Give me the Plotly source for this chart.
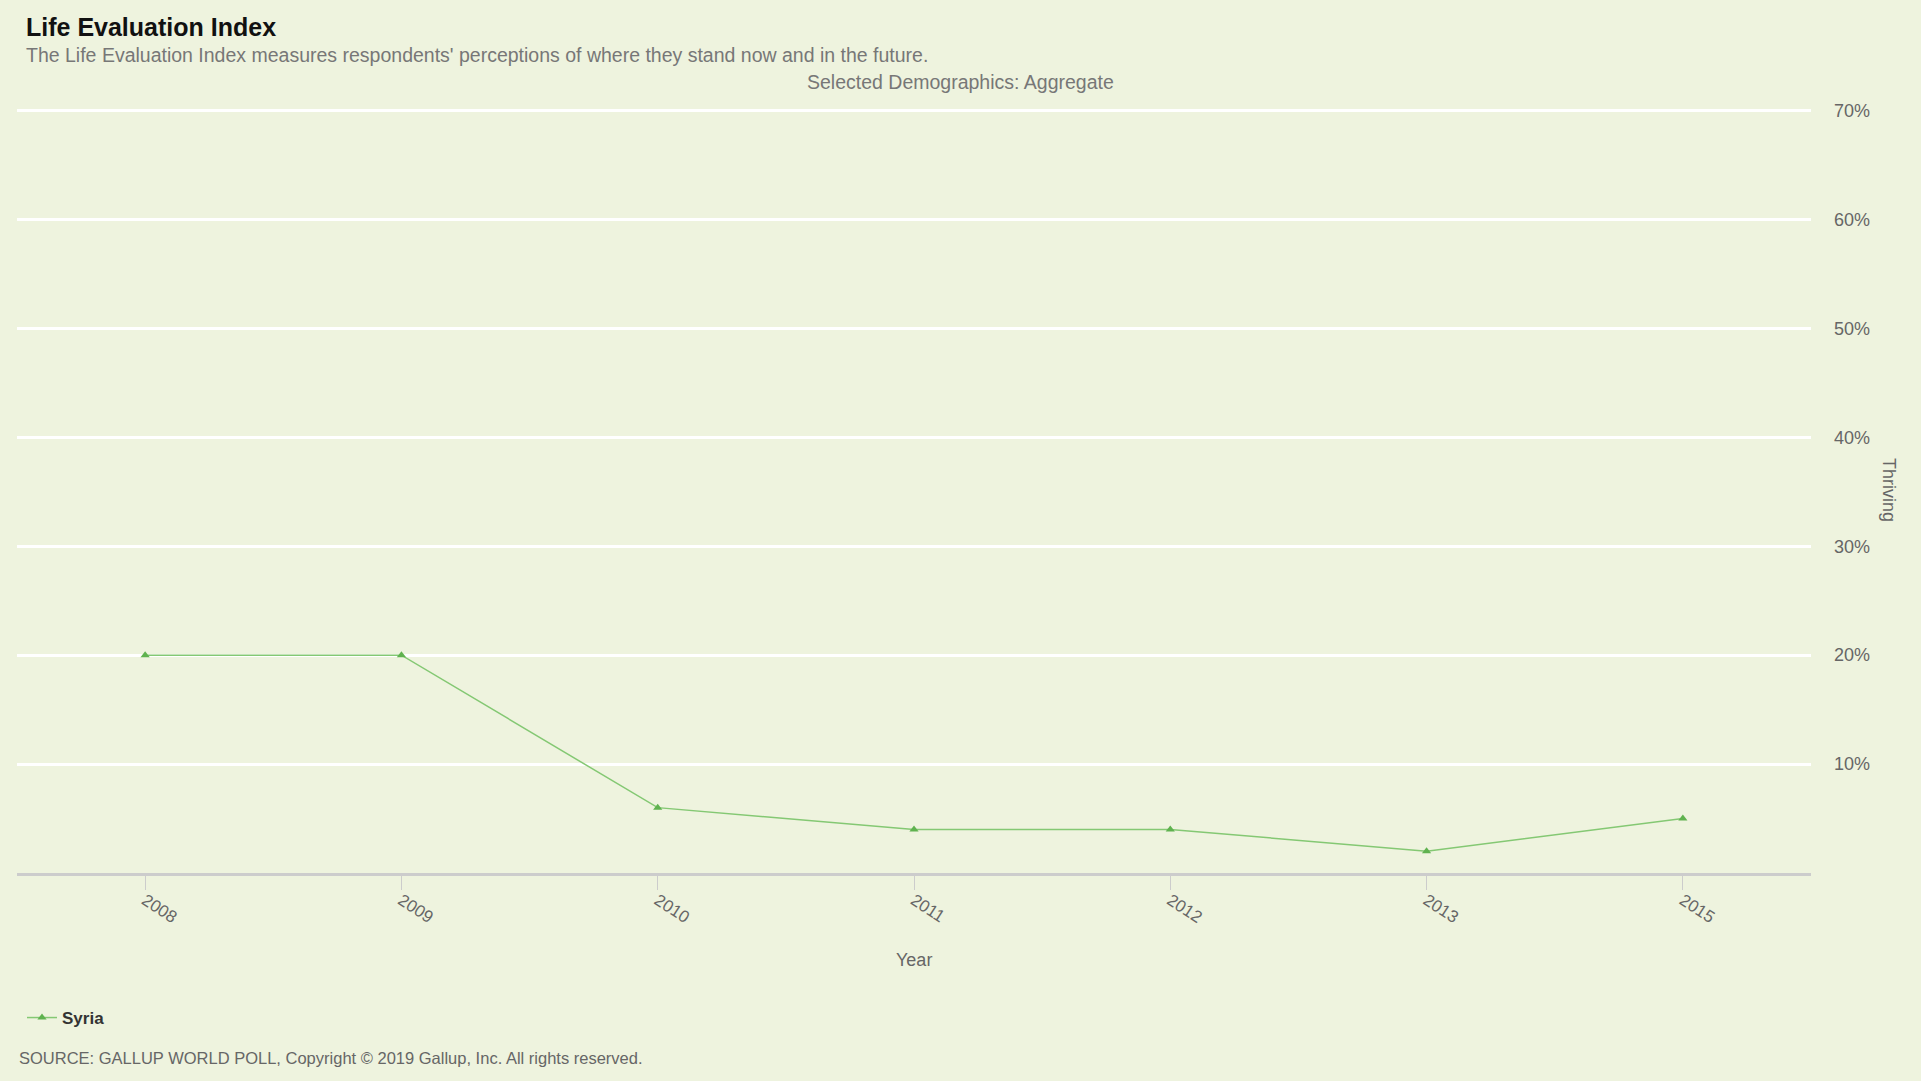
import plotly.graph_objects as go

years = ["2008", "2009", "2010", "2011", "2012", "2013", "2015"]
thriving = [20, 20, 6, 4, 4, 2, 5]
y_ticks = [10, 20, 30, 40, 50, 60, 70]
y_tick_labels = ["10%", "20%", "30%", "40%", "50%", "60%", "70%"]

BG = "#eef3de"
FONT = "Arial, Liberation Sans, sans-serif"
W, H = 1921, 1081
L, R, T, B = 17, 110, 105, 208
pw, ph = W - L - R, H - T - B

def px(x):
    return (x - L) / pw

def py(y):
    return (H - B - y) / ph

fig = go.Figure()
fig.add_trace(go.Scatter(
    x=years, y=thriving, mode="lines+markers", name="<b>Syria</b>",
    line=dict(color="#84c873", width=1.5),
    marker=dict(symbol="triangle-up", size=8, color="#5fb24f"),
))

fig.update_layout(
    width=W, height=H,
    margin=dict(l=L, r=R, t=T, b=B),
    paper_bgcolor=BG, plot_bgcolor=BG,
    font=dict(family=FONT, color="#666666"),
    showlegend=True,
    legend=dict(x=px(22), y=py(1018), xanchor="left", yanchor="middle",
                bgcolor="rgba(0,0,0,0)",
                font=dict(size=17, color="#333333", family=FONT),
                itemwidth=30),
    xaxis=dict(
        type="category", range=[-0.5, len(years) - 0.5],
        showgrid=False, showline=True, linecolor="#cccccc", linewidth=3,
        ticks="outside", ticklen=14, tickcolor="#cccccc", tickwidth=1,
        tickangle=33, tickfont=dict(size=17, color="#666666"),
        ticklabelstandoff=-6,
        zeroline=False,
    ),
    yaxis=dict(
        side="right", range=[0, 70.5], tickvals=y_ticks, ticktext=y_tick_labels,
        showgrid=True, gridcolor="#ffffff", gridwidth=3,
        zeroline=False, showline=False, ticks="",
        ticklabelstandoff=22,
        tickfont=dict(size=18, color="#666666"),
    ),
    annotations=[
        dict(text="<b>Life Evaluation Index</b>", x=px(24), y=py(27), xref="paper", yref="paper",
             xanchor="left", yanchor="middle", showarrow=False,
             font=dict(size=25, color="#111111", family=FONT)),
        dict(text="The Life Evaluation Index measures respondents' perceptions of where they stand now and in the future.",
             x=px(24), y=py(55), xref="paper", yref="paper",
             xanchor="left", yanchor="middle", showarrow=False,
             font=dict(size=19.5, color="#777777", family=FONT)),
        dict(text="Selected Demographics: Aggregate", x=px(961), y=py(82), xref="paper", yref="paper",
             xanchor="center", yanchor="middle", showarrow=False,
             font=dict(size=19.5, color="#777777", family=FONT)),
        dict(text="Thriving", x=px(1889), y=py(490), xref="paper", yref="paper",
             xanchor="center", yanchor="middle", showarrow=False, textangle=90,
             font=dict(size=18, color="#666666", family=FONT)),
        dict(text="Year", x=px(914), y=py(960), xref="paper", yref="paper",
             xanchor="center", yanchor="middle", showarrow=False,
             font=dict(size=18, color="#666666", family=FONT)),
        dict(text="SOURCE: GALLUP WORLD POLL, Copyright \u00a9 2019 Gallup, Inc. All rights reserved.",
             x=px(17), y=py(1058), xref="paper", yref="paper",
             xanchor="left", yanchor="middle", showarrow=False,
             font=dict(size=16.5, color="#666666", family=FONT)),
    ],
)

fig.write_html(
    "out.html",
    config={"displayModeBar": False},
    post_script="document.body.style.margin='0';document.documentElement.style.overflow='hidden';",
)
